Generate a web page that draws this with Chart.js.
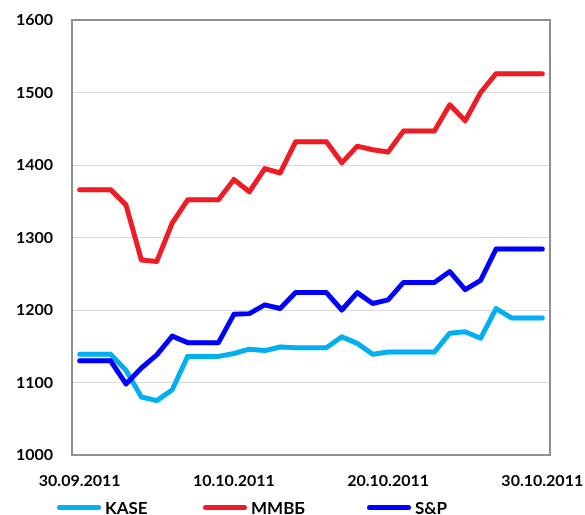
<!DOCTYPE html>
<html>
<head>
<meta charset="utf-8">
<script src="https://cdn.jsdelivr.net/npm/chart.js@4"></script>
<style>
  html, body { margin: 0; padding: 0; background: #fff; }
  #wrap { position: relative; width: 585px; height: 515px; }
  #legend { position: absolute; left: 0; top: 496px; width: 585px; height: 22px; font: bold 17px Lato, "Liberation Sans", sans-serif; color: #000; }
  .item { position: absolute; top: 0; height: 22px; display: flex; align-items: center; white-space: nowrap; }
  .swatch { display: inline-block; width: 44px; height: 5px; border-radius: 3px; margin-right: 4px; }
</style>
</head>
<body>
<div id="wrap">
  <canvas id="c" width="585" height="515"></canvas>
  <div id="legend"></div>
</div>
<script>
const categories = ["30.09.2011","01.10.2011","02.10.2011","03.10.2011","04.10.2011","05.10.2011","06.10.2011","07.10.2011","08.10.2011","09.10.2011","10.10.2011","11.10.2011","12.10.2011","13.10.2011","14.10.2011","15.10.2011","16.10.2011","17.10.2011","18.10.2011","19.10.2011","20.10.2011","21.10.2011","22.10.2011","23.10.2011","24.10.2011","25.10.2011","26.10.2011","27.10.2011","28.10.2011","29.10.2011","30.10.2011"];
const seriesNames = ["KASE", "ММВБ", "S&P"];
const kase = [1139,1139,1139,1117,1080,1075,1090,1136,1136,1136,1140,1146,1144,1149,1148,1148,1148,1163,1154,1139,1142,1142,1142,1142,1168,1170,1161,1202,1189,1189,1189];
const mmvb = [1366,1366,1366,1345,1269,1267,1320,1352,1352,1352,1380,1363,1395,1389,1432,1432,1432,1403,1426,1421,1418,1447,1447,1447,1483,1461,1500,1526,1526,1526,1526];
const sp   = [1130,1130,1130,1098,1120,1138,1164,1155,1155,1155,1194,1195,1207,1202,1224,1224,1224,1200,1224,1209,1214,1238,1238,1238,1253,1228,1241,1284,1284,1284,1284];
const yTicks = [1000,1100,1200,1300,1400,1500,1600];
const colors = ["#00B0F0", "#EE1C24", "#0000FF"];

const FONT = { family: "Lato, 'Liberation Sans', sans-serif", size: 16, weight: "bold" };

const frame = {
  id: "frame",
  beforeDatasetsDraw(chart) {
    const a = chart.chartArea, ctx = chart.ctx;
    ctx.save();
    ctx.strokeStyle = "#8f8f8f";
    ctx.lineWidth = 2;
    ctx.strokeRect(a.left, a.top, a.right - a.left, a.bottom - a.top);
    ctx.restore();
  }
};

function ds(label, data, color, order) {
  return { label, data, borderColor: color, backgroundColor: color, borderWidth: 5,
    pointRadius: 0, tension: 0, borderCapStyle: "round", borderJoinStyle: "round", fill: false, order };
}

const chart = new Chart(document.getElementById("c"), {
  type: "line",
  data: {
    labels: categories,
    datasets: [
      ds(seriesNames[0], kase, colors[0], 2),
      ds(seriesNames[1], mmvb, colors[1], 1),
      ds(seriesNames[2], sp, colors[2], 0)
    ]
  },
  options: {
    responsive: false,
    animation: false,
    layout: { padding: { left: 10, right: 35, top: 20, bottom: 0 } },
    plugins: { legend: { display: false }, tooltip: { enabled: false } },
    scales: {
      x: {
        offset: true,
        grid: { display: false, drawTicks: false },
        border: { display: false },
        afterFit(s) { s.height = 60; s.paddingLeft = 0; s.paddingRight = 0; },
        ticks: {
          autoSkip: false, maxRotation: 0, minRotation: 0, padding: 16,
          color: "#000", font: FONT,
          callback(v, i) { return i % 10 === 0 ? categories[i] : ""; }
        }
      },
      y: {
        min: yTicks[0], max: yTicks[yTicks.length - 1],
        afterFit(s) { s.width = 62; s.paddingTop = 0; s.paddingBottom = 0; },
        afterBuildTicks(s) { s.ticks = yTicks.map(v => ({ value: v })); },
        grid: { color: "#d9d9d9", lineWidth: 1, drawTicks: false },
        border: { display: false },
        ticks: { padding: 19, color: "#000", font: FONT, callback(v) { return String(v); } }
      }
    }
  },
  plugins: [frame]
});

const legendPos = [57, 203, 367];
const leg = document.getElementById("legend");
chart.data.datasets.forEach((d, i) => {
  const it = document.createElement("div");
  it.className = "item";
  it.style.left = legendPos[i] + "px";
  const sw = document.createElement("span");
  sw.className = "swatch";
  sw.style.background = d.borderColor;
  const tx = document.createElement("span");
  tx.textContent = d.label;
  it.appendChild(sw); it.appendChild(tx);
  leg.appendChild(it);
});
</script>
</body>
</html>
